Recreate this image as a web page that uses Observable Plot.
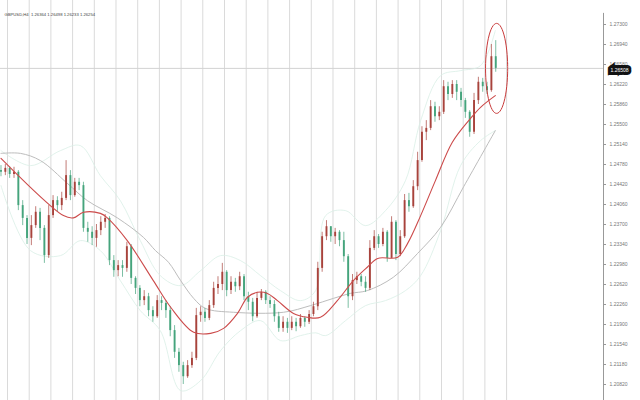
<!DOCTYPE html>
<html>
<head>
<meta charset="utf-8">
<script src="https://cdn.jsdelivr.net/npm/d3@7"></script>
<script src="https://cdn.jsdelivr.net/npm/@observablehq/plot@0.6"></script>
<style>
  html, body { margin: 0; padding: 0; background: #fff; }
  #chart svg { display: block; }
</style>
</head>
<body>
<div id="chart"></div>
<script>
// ---- data ----
const header = "GBPUSD,H4  1.26364 1.26498 1.26233 1.26254";
const firstOpen = 1.2467;
const closes = [
  1.2464,1.2471,1.2460,1.2464,1.2404,1.2381,1.2345,1.2368,1.2392,1.2363,
  1.2314,1.2386,1.2413,1.2404,1.2417,1.2458,1.2422,1.2446,1.2440,1.2363,
  1.2356,1.2345,1.2359,1.2374,1.2381,1.2305,1.2287,1.2296,1.2291,1.2330,
  1.2273,1.2255,1.2233,1.2240,1.2215,1.2204,1.2233,1.2228,1.2215,1.2179,
  1.2140,1.2116,1.2096,1.2116,1.2129,1.2206,1.2212,1.2201,1.2224,1.2255,
  1.2262,1.2284,1.2251,1.2266,1.2258,1.2276,1.2240,1.2230,1.2204,1.2237,
  1.2248,1.2233,1.2226,1.2204,1.2183,1.2194,1.2183,1.2194,1.2186,1.2201,
  1.2194,1.2208,1.2222,1.2291,1.2348,1.2366,1.2348,1.2356,1.2341,1.2312,
  1.2240,1.2269,1.2276,1.2266,1.2255,1.2327,1.2348,1.2334,1.2356,1.2309,
  1.2374,1.2316,1.2348,1.2413,1.2402,1.2438,1.2485,1.2536,1.2543,1.2582,
  1.2564,1.2572,1.2618,1.2604,1.2622,1.2608,1.2593,1.2572,1.2536,1.2593,
  1.2626,1.2618,1.2611,1.2672,1.2651
];
const highs = [
  1.2476,1.2478,1.2474,1.2473,1.2467,1.2413,1.2386,1.2386,1.2402,1.2399,
  1.2368,1.2404,1.2422,1.2420,1.2428,1.2485,1.2467,1.2453,1.2453,1.2446,
  1.2374,1.2366,1.2370,1.2384,1.2388,1.2384,1.2314,1.2305,1.2305,1.2338,
  1.2334,1.2276,1.2260,1.2251,1.2246,1.2222,1.2242,1.2240,1.2233,1.2222,
  1.2188,1.2147,1.2122,1.2125,1.2140,1.2219,1.2222,1.2219,1.2233,1.2266,
  1.2276,1.2300,1.2287,1.2276,1.2273,1.2284,1.2280,1.2248,1.2237,1.2248,
  1.2253,1.2251,1.2240,1.2233,1.2212,1.2204,1.2201,1.2204,1.2201,1.2208,
  1.2204,1.2215,1.2230,1.2302,1.2356,1.2377,1.2366,1.2363,1.2359,1.2356,
  1.2316,1.2280,1.2284,1.2280,1.2276,1.2341,1.2359,1.2352,1.2363,1.2359,
  1.2384,1.2377,1.2359,1.2424,1.2426,1.2449,1.2500,1.2546,1.2557,1.2593,
  1.2590,1.2582,1.2629,1.2626,1.2629,1.2629,1.2615,1.2597,1.2575,1.2606,
  1.2635,1.2633,1.2626,1.2694,1.2701
];
const lows = [
  1.2456,1.2458,1.2453,1.2453,1.2395,1.2368,1.2334,1.2332,1.2363,1.2341,
  1.2300,1.2309,1.2381,1.2392,1.2395,1.2413,1.2413,1.2419,1.2431,1.2356,
  1.2338,1.2332,1.2329,1.2350,1.2363,1.2296,1.2275,1.2276,1.2275,1.2284,
  1.2262,1.2244,1.2222,1.2224,1.2204,1.2194,1.2201,1.2215,1.2201,1.2168,
  1.2129,1.2104,1.2082,1.2093,1.2111,1.2125,1.2194,1.2194,1.2197,1.2219,
  1.2244,1.2251,1.2240,1.2244,1.2248,1.2251,1.2233,1.2215,1.2195,1.2201,
  1.2233,1.2226,1.2219,1.2194,1.2176,1.2176,1.2174,1.2179,1.2177,1.2183,
  1.2185,1.2190,1.2204,1.2215,1.2284,1.2341,1.2338,1.2334,1.2330,1.2302,
  1.2219,1.2233,1.2262,1.2258,1.2248,1.2251,1.2323,1.2327,1.2330,1.2302,
  1.2309,1.2305,1.2312,1.2345,1.2392,1.2399,1.2431,1.2482,1.2521,1.2539,
  1.2554,1.2557,1.2568,1.2593,1.2597,1.2593,1.2581,1.2561,1.2527,1.2532,
  1.2586,1.2608,1.2604,1.2608,1.2644
];
// moving averages (candle index, price)
const maFastIdx = [0,14.4,16.7,19.0,22.9,24.5,29.1,35.1,39.1,44.4,48.3,51.3,54.5,56.8,59.1,61.4,63.7,67.4,70.6,73.6,77.5,81.2,84.4,86.8,91.4,93.7,96.7,100.1,104.0,108.2,110.5,113.9];
const maFastVal = [1.2489,1.2386,1.2382,1.2392,1.2390,1.2382,1.2341,1.2269,1.2221,1.2176,1.2174,1.2183,1.2210,1.2239,1.2248,1.2246,1.2233,1.2210,1.2203,1.2203,1.2233,1.2269,1.2293,1.2309,1.2311,1.2336,1.2386,1.2449,1.2518,1.2561,1.2581,1.2602];
const maSlowIdx = [0,4.5,9.1,15.3,19.9,26.8,32.8,35.6,38.6,41.4,44.4,47.1,53.6,65.1,71.3,76.6,80.5,84.4,90.4,96.0,101.3,106.6,113.9];
const maSlowVal = [1.2498,1.2498,1.2485,1.2444,1.2413,1.2382,1.2347,1.2323,1.2302,1.2269,1.2237,1.2219,1.2212,1.2212,1.2224,1.2237,1.2246,1.2251,1.2275,1.2318,1.2365,1.2438,1.2539];
const bandIdx = [0,6.8,13.7,18.3,22.9,27.5,32.1,36.7,41.4,46.0,50.6,55.2,59.8,64.4,69.0,72.5,74.8,79.4,84.0,88.6,93.2,96.7,101.3,105.9,110.5,113.9];
const bandUpper = [1.2503,1.2476,1.2503,1.2512,1.2458,1.2413,1.2341,1.2278,1.2260,1.2287,1.2314,1.2305,1.2278,1.2251,1.2233,1.2251,1.2386,1.2395,1.2368,1.2395,1.2449,1.2557,1.2638,1.2647,1.2656,1.2719];
const bandLower = [1.2440,1.2323,1.2314,1.2341,1.2323,1.2269,1.2215,1.2179,1.2071,1.2089,1.2143,1.2179,1.2197,1.2161,1.2170,1.2175,1.2170,1.2197,1.2224,1.2233,1.2251,1.2278,1.2359,1.2476,1.2521,1.2539];
const dayLines = [1.5,6.5,11.5,16.5,21.5,26.5,31.5,36.5,41.5,46.5,51.5,56.5,61.5,66.5,71.5,76.5,81.5,86.5,91.5,96.5,101.5,106.5,111.5,116.5];
const yTicks = [1.2730,1.2694,1.2658,1.2622,1.2586,1.2550,1.2514,1.2478,1.2442,1.2406,1.2370,1.2334,1.2298,1.2262,1.2226,1.2190,1.2154,1.2118,1.2082];
const lastPrice = 1.2651;
const lastLabel = "1.26508";
// highlight ellipse (centre in candle index / price, radii in same units)
const ringCentre = {i: 114.2, p: 1.2651};
const ringRadius = {i: 2.55, p: 0.0081};

// ---- build tables ----
const candles = closes.map((c, i) => ({
  i, open: i === 0 ? firstOpen : closes[i - 1], close: c, high: highs[i], low: lows[i]
}));
const maFast = maFastIdx.map((i, k) => ({i, p: maFastVal[k]}));
const maSlow = maSlowIdx.map((i, k) => ({i, p: maSlowVal[k]}));
const upper = bandIdx.map((i, k) => ({i, p: bandUpper[k]}));
const lower = bandIdx.map((i, k) => ({i, p: bandLower[k]}));
const ring = d3.range(0, 361, 6).map(a => ({
  i: ringCentre.i + ringRadius.i * Math.cos(a * Math.PI / 180),
  p: ringCentre.p + ringRadius.p * Math.sin(a * Math.PI / 180)
}));
const UP = "#a8433c", DOWN = "#45a47c";
const col = d => d.close >= d.open ? UP : DOWN;

const chart = Plot.plot({
  width: 640,
  height: 400,
  marginLeft: 0,
  marginRight: 37,
  marginTop: 0,
  marginBottom: 0,
  style: {fontFamily: "Liberation Sans, Arial, sans-serif", background: "#fff"},
  x: {domain: [-0.113, 138.83], axis: null},
  y: {domain: [1.20532, 1.27732], axis: null},
  color: {type: "identity"},
  marks: [
    Plot.ruleX(dayLines, {stroke: "#dadada", strokeWidth: 1}),
    Plot.ruleY([lastPrice], {stroke: "#d2d2d2", strokeWidth: 1}),
    Plot.line(upper, {x: "i", y: "p", stroke: "#d9efe6", strokeWidth: 0.8, curve: "catmull-rom"}),
    Plot.line(lower, {x: "i", y: "p", stroke: "#d9efe6", strokeWidth: 0.8, curve: "catmull-rom"}),
    Plot.line(maSlow, {x: "i", y: "p", stroke: "#bdbdbd", strokeWidth: 1, curve: "catmull-rom"}),
    Plot.ruleX(candles, {x: "i", y1: "low", y2: "high", stroke: col, strokeWidth: 0.7}),
    Plot.ruleX(candles, {x: "i", y1: "open", y2: "close", stroke: col, strokeWidth: 1.9}),
    Plot.line(maFast, {x: "i", y: "p", stroke: "#cc4b4b", strokeWidth: 1.1, curve: "catmull-rom"}),
    Plot.line(ring, {x: "i", y: "p", stroke: "#c83a3a", strokeWidth: 1, curve: "catmull-rom-closed"}),
    Plot.ruleX([138.83], {y1: 1.2750, y2: 1.20532, stroke: "#999", strokeWidth: 1}),
    Plot.axisY(yTicks, {anchor: "right", tickSize: 2, tickPadding: 4, fontSize: 5, fill: "#777", stroke: "#999", tickFormat: d => d.toFixed(5), textAnchor: "start"}),
    Plot.text([lastLabel], {x: 138.83, y: lastPrice, text: d => d, dx: 16, dy: 2, fontSize: 5, fill: "#fff", stroke: "#111", strokeWidth: 6, strokeLinejoin: "miter", paintOrder: "stroke"}),
    Plot.text([header], {frameAnchor: "top-left", dx: 4, dy: 13, fontSize: 4.2, fill: "#444", text: d => d})
  ]
});
document.getElementById("chart").appendChild(chart);
</script>
</body>
</html>
